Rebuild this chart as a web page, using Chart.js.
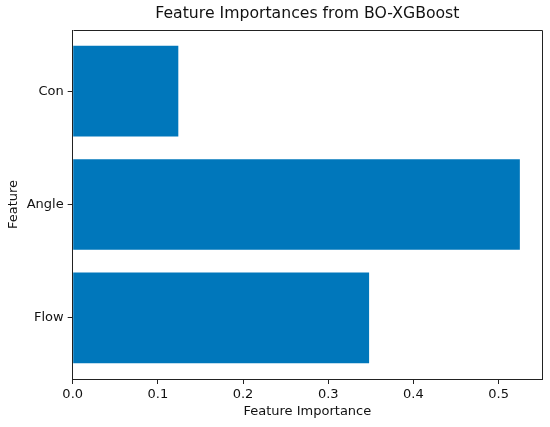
<!DOCTYPE html>
<html>
<head>
<meta charset="utf-8">
<script src="https://cdn.jsdelivr.net/npm/chart.js@4/dist/chart.umd.min.js"></script>
<style>
html,body{margin:0;padding:0;background:#fff;}
#wrap{width:550px;height:427px;}
</style>
</head>
<body>
<div id="wrap"><canvas id="c" width="550" height="427"></canvas></div>
<script>
const categories = ["Flow", "Angle", "Con"];
const importances = [0.348, 0.525, 0.124];
const xTicks = [0, 0.1, 0.2, 0.3, 0.4, 0.5];
const yTicks = [0, 1, 2];

const FONT = "'DejaVu Sans', sans-serif";
const barData = categories.map((c, i) => ({ x: importances[i], y: i }));

const boxPlugin = {
  id: 'boxPlugin',
  afterLayout(chart) {
    const t = chart.titleBlock, a = chart.chartArea;
    if (t) { t.left = a.left; t.right = a.right; t.width = a.right - a.left; }
  },
  afterDraw(chart) {
    const a = chart.chartArea, ctx = chart.ctx;
    ctx.save();
    ctx.strokeStyle = '#222';
    ctx.lineWidth = 1;
    ctx.beginPath();
    ctx.moveTo(Math.round(a.left) + 0.5, Math.round(a.top) + 0.5);
    ctx.lineTo(Math.round(a.right) + 0.5, Math.round(a.top) + 0.5);
    ctx.lineTo(Math.round(a.right) + 0.5, Math.round(a.bottom) + 0.5);
    ctx.stroke();
    ctx.restore();
  }
};

new Chart(document.getElementById('c'), {
  type: 'bar',
  data: {
    datasets: [{
      data: barData,
      backgroundColor: '#0077bb',
      borderWidth: 0,
      barPercentage: 0.8,
      categoryPercentage: 1.0
    }]
  },
  options: {
    indexAxis: 'y',
    responsive: false,
    animation: false,
    layout: { padding: { left: 0, right: 8, top: 0, bottom: 0 } },
    plugins: {
      legend: { display: false },
      tooltip: { enabled: false },
      title: {
        display: true,
        text: 'Feature Importances from BO-XGBoost',
        color: '#111',
        font: { family: FONT, size: 15.7, weight: 'normal', lineHeight: 1.2 },
        padding: { top: 4.6, bottom: 6.56 }
      }
    },
    scales: {
      x: {
        type: 'linear',
        min: 0,
        max: 0.551,
        afterBuildTicks: s => { s.ticks = xTicks.map(v => ({ value: v })); },
        afterFit: s => { s.height = 48; },
        grid: { drawOnChartArea: false, drawTicks: true, tickLength: 5, tickColor: '#222' },
        border: { color: '#222', width: 1 },
        ticks: {
          color: '#111', padding: 3, maxRotation: 0,
          font: { family: FONT, size: 13 },
          callback: v => Number(v).toFixed(1)
        },
        title: {
          display: true, text: 'Feature Importance', color: '#111',
          font: { family: FONT, size: 13, lineHeight: 1.2 },
          padding: { top: 0, bottom: 7.5 }
        }
      },
      y: {
        type: 'linear',
        offset: false,
        min: -0.54,
        max: 2.54,
        afterBuildTicks: s => { s.ticks = yTicks.map(v => ({ value: v })); },
        afterFit: s => { s.width = 72.7; },
        grid: { offset: false, drawOnChartArea: false, drawTicks: true, tickLength: 5, tickColor: '#222' },
        border: { color: '#222', width: 1 },
        ticks: {
          color: '#111', padding: 4,
          font: { family: FONT, size: 13 },
          callback: v => categories[v]
        },
        title: {
          display: true, text: 'Feature', color: '#111',
          font: { family: FONT, size: 13, lineHeight: 1.2 },
          padding: { top: 6.2, bottom: 0 }
        }
      }
    }
  },
  plugins: [boxPlugin]
});
</script>
</body>
</html>
